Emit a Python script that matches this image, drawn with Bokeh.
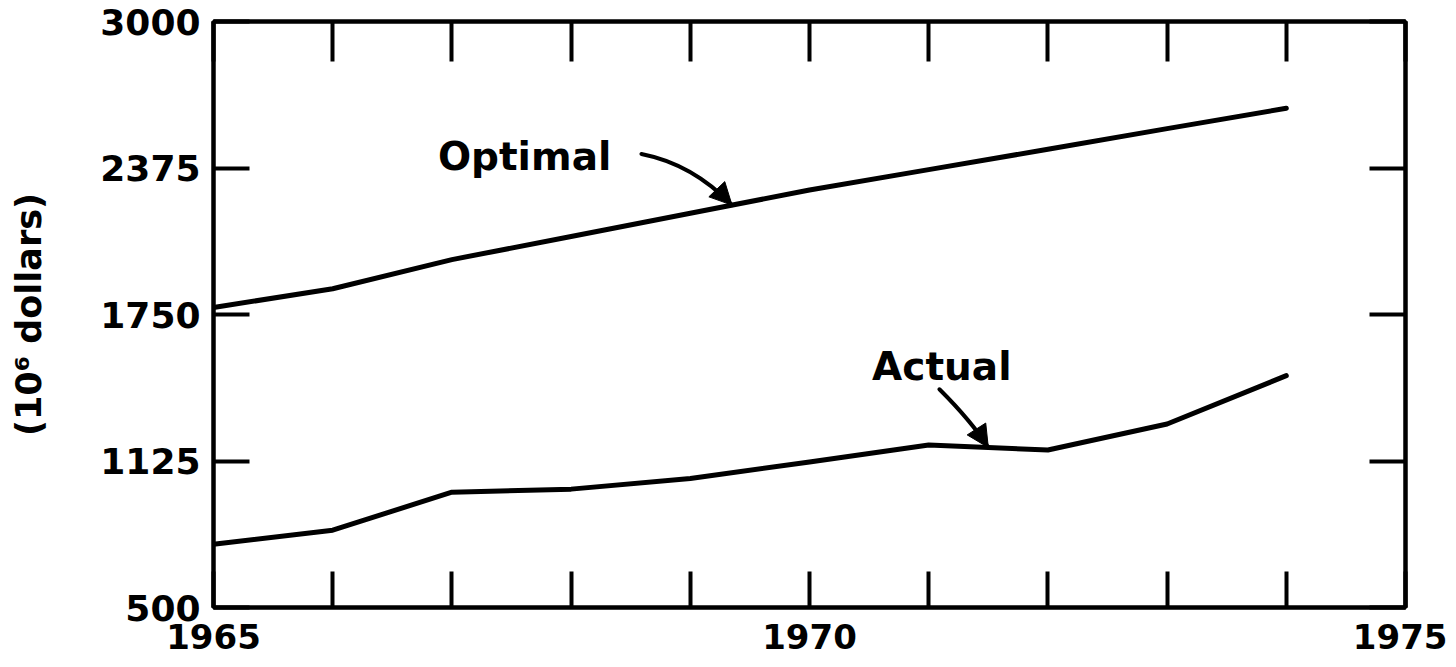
import numpy as np
from bokeh.plotting import figure
from bokeh.models import LinearAxis, FixedTicker, Range1d, Arrow, NormalHead
from bokeh.embed import file_html
from bokeh.resources import INLINE
from bokeh.core.properties import value

# ---- data ----
years = [1965, 1966, 1967, 1968, 1969, 1970, 1971, 1972, 1973, 1974]
optimal = [1780, 1860, 1984, 2083, 2182, 2281, 2368, 2455, 2543, 2630]
actual = [770, 830, 992, 1005, 1050, 1121, 1193, 1172, 1283, 1489]

x_ticks = list(range(1965, 1976))
x_tick_labels = {1965: "1965", 1970: "1970", 1975: "1975"}
y_ticks = [500, 1125, 1750, 2375, 3000]
y_label = "(10\u2076 dollars)"

# annotation texts and anchor positions (data units)
ann_text = ["Optimal", "Actual"]
ann_x = [1967.61, 1971.11]
ann_y = [2422, 1529]

FONT = "DejaVu Sans"
BLACK = "#000000"

p = figure(frame_width=1192, frame_height=586,
           x_range=Range1d(1965, 1975), y_range=Range1d(500, 3000),
           output_backend="svg", toolbar_location=None,
           min_border_left=213, min_border_right=42,
           min_border_top=21, min_border_bottom=52)

p.xgrid.visible = False
p.ygrid.visible = False
p.outline_line_color = BLACK
p.outline_line_width = 4
p.background_fill_color = "white"
p.border_fill_color = "white"

# bottom axis
xa = p.xaxis[0]
xa.ticker = FixedTicker(ticks=x_ticks)
xa.major_label_overrides = {t: x_tick_labels.get(t, "") for t in x_ticks}
xa.major_tick_in = 36
xa.major_tick_out = 0
xa.minor_tick_line_color = None
xa.major_tick_line_width = 4
xa.axis_line_width = 4
xa.major_label_text_font = FONT
xa.major_label_text_font_style = "bold"
xa.major_label_text_font_size = "34px"
xa.major_label_text_color = BLACK
xa.major_label_standoff = 16

# left axis
ya = p.yaxis[0]
ya.ticker = FixedTicker(ticks=y_ticks)
ya.major_tick_in = 36
ya.major_tick_out = 0
ya.minor_tick_line_color = None
ya.major_tick_line_width = 4
ya.axis_line_width = 4
ya.major_label_text_font = FONT
ya.major_label_text_font_style = "bold"
ya.major_label_text_font_size = "36px"
ya.major_label_text_color = BLACK
ya.major_label_standoff = 13
ya.axis_label = y_label
ya.axis_label_text_font = FONT
ya.axis_label_text_font_style = "bold"
ya.axis_label_text_font_size = "35px"
ya.axis_label_text_color = BLACK
ya.axis_label_standoff = 48

# top axis (ticks only)
top = LinearAxis(ticker=FixedTicker(ticks=x_ticks),
                 major_label_overrides={t: "" for t in x_ticks},
                 major_tick_in=40, major_tick_out=0,
                 minor_tick_line_color=None, major_tick_line_width=4,
                 axis_line_width=4, major_label_standoff=0,
                 major_label_text_font_size="1px")
p.add_layout(top, "above")

# right axis (ticks only)
right = LinearAxis(ticker=FixedTicker(ticks=y_ticks),
                   major_label_overrides={t: "" for t in y_ticks},
                   major_tick_in=36, major_tick_out=0,
                   minor_tick_line_color=None, major_tick_line_width=4,
                   axis_line_width=4, major_label_standoff=0,
                   major_label_text_font_size="1px")
p.add_layout(right, "right")

# data lines
p.line(years, optimal, line_color=BLACK, line_width=5, line_join="round", line_cap="round")
p.line(years, actual, line_color=BLACK, line_width=5, line_join="round", line_cap="round")

# labels
p.text(x=ann_x, y=ann_y, text=ann_text, text_align="center", text_baseline="middle",
       text_font=value(FONT), text_font_style="bold", text_font_size="39px",
       text_color=BLACK)

# curved pointer arrows
def pointer(x0, y0, cx, cy, x1, series):
    y1 = float(np.interp(x1, years, series))
    p.quadratic(x0=[x0], y0=[y0], x1=[x1], y1=[y1], cx=[cx], cy=[cy],
                line_color=BLACK, line_width=4, line_cap="round")
    sx = x1 - 0.3 * (x1 - cx)
    sy = y1 - 0.3 * (y1 - cy)
    p.add_layout(Arrow(end=NormalHead(size=22, fill_color=BLACK, line_color=BLACK, line_width=1),
                       x_start=sx, y_start=sy, x_end=x1, y_end=y1,
                       line_color=BLACK, line_width=4))

pointer(1968.59, 2435, 1969.02, 2392, 1969.35, optimal)
pointer(1971.09, 1431, 1971.36, 1294, 1971.50, actual)

open("out.html", "w").write(file_html(p, INLINE))
